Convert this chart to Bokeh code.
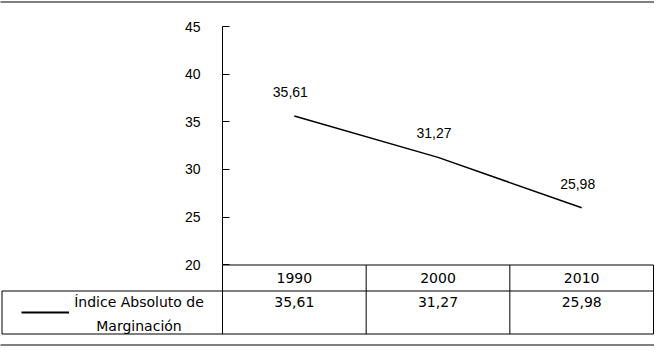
from bokeh.plotting import figure
from bokeh.models import Range1d, LinearAxis, FixedTicker
from bokeh.embed import file_html
from bokeh.resources import INLINE
from bokeh.core.properties import value

# ---------------- data ----------------
years = ["1990", "2000", "2010"]
indice = [35.61, 31.27, 25.98]
value_labels = ["35,61", "31,27", "25,98"]
y_ticks = [20, 25, 30, 35, 40, 45]
series_name = ["Índice Absoluto de", "Marginación"]

# ---------------- layout (pixels) ----------------
W, H = 654, 346
LEFT = 222            # value axis position
RIGHT = 1
n = len(years)
PX = (W - LEFT - RIGHT) / n      # px per category column
Y_LO, Y_HI = 20, 45
Y45_PX = 26.0
PPU = 9.533                       # px per unit on the value axis
Y_END = Y_HI + Y45_PX / PPU
Y_START = Y_END - H / PPU

xs = list(range(n))

AXIS_FONT = "Liberation Sans"
TABLE_FONT = value("DejaVu Sans")


def px2x(px):
    return -0.5 + (px - LEFT) / PX


def py2y(py):
    return Y_END - py / PPU


p = figure(width=W, height=H, output_backend="svg", toolbar_location=None,
           x_range=Range1d(-0.5, n - 0.5), y_range=Range1d(Y_START, Y_END),
           min_border_left=LEFT, min_border_right=RIGHT,
           min_border_top=0, min_border_bottom=0,
           x_axis_location=None, y_axis_location=None)
p.grid.visible = False
p.outline_line_color = None
p.background_fill_color = "white"
p.border_fill_color = "white"

yaxis = LinearAxis(ticker=FixedTicker(ticks=y_ticks), bounds=(Y_LO, Y_HI),
                   major_tick_in=7, major_tick_out=0,
                   minor_tick_line_color=None,
                   major_label_standoff=22,
                   major_label_text_font=AXIS_FONT,
                   major_label_text_font_size="14px",
                   major_label_text_color="black",
                   axis_line_color="black", axis_line_width=1,
                   major_tick_line_color="black")
p.add_layout(yaxis, "left")

# series line + data labels
p.line(xs, indice, line_color="black", line_width=1.5)
p.text(x=xs, y=indice, text=value_labels, x_offset=-4, y_offset=-24,
       text_align="center", text_baseline="middle",
       text_font=value(AXIS_FONT), text_font_size="14px", text_color="black")

# ---------------- data table (drawn below the value range) ----------------
T_TOP, T_MID, T_BOT = 264.5, 290.5, 333.5
PAGE_TOP, PAGE_BOT = 1.5, 344.5
leg_left = px2x(1.5)

hx0 = [-0.5, leg_left, leg_left, px2x(0), px2x(0)]
hx1 = [n - 0.5] * 3 + [px2x(W), px2x(W)]
hy = [py2y(v) for v in (T_TOP, T_MID, T_BOT, PAGE_TOP, PAGE_BOT)]
p.segment(x0=hx0, y0=hy, x1=hx1, y1=hy, line_color="black", line_width=1,
          level="overlay")

vx = [i - 0.5 for i in range(1, n + 1)] + [-0.5, leg_left]
vy0 = [py2y(T_TOP)] * n + [py2y(T_TOP), py2y(T_MID)]
vy1 = [py2y(T_BOT)] * (n + 2)
p.segment(x0=vx, y0=vy0, x1=vx, y1=vy1, line_color="black", line_width=1,
          level="overlay")

p.text(x=xs, y=[py2y(277.5)] * n, text=years, text_align="center",
       text_baseline="middle", text_font=TABLE_FONT, text_font_size="14px",
       text_color="black", level="overlay")
p.text(x=xs, y=[py2y(301.5)] * n, text=value_labels, text_align="center",
       text_baseline="middle", text_font=TABLE_FONT, text_font_size="14px",
       text_color="black", level="overlay")

# legend key + series name
p.segment(x0=[px2x(21)], y0=[py2y(312)], x1=[px2x(68.5)], y1=[py2y(312)],
          line_color="black", line_width=2, level="overlay")
p.text(x=[px2x(138.5)] * 2, y=[py2y(301), py2y(325)], text=series_name,
       text_align="center", text_baseline="middle",
       text_font=TABLE_FONT, text_font_size="14px", text_color="black",
       level="overlay")

with open("out.html", "w") as f:
    f.write(file_html(p, INLINE))
